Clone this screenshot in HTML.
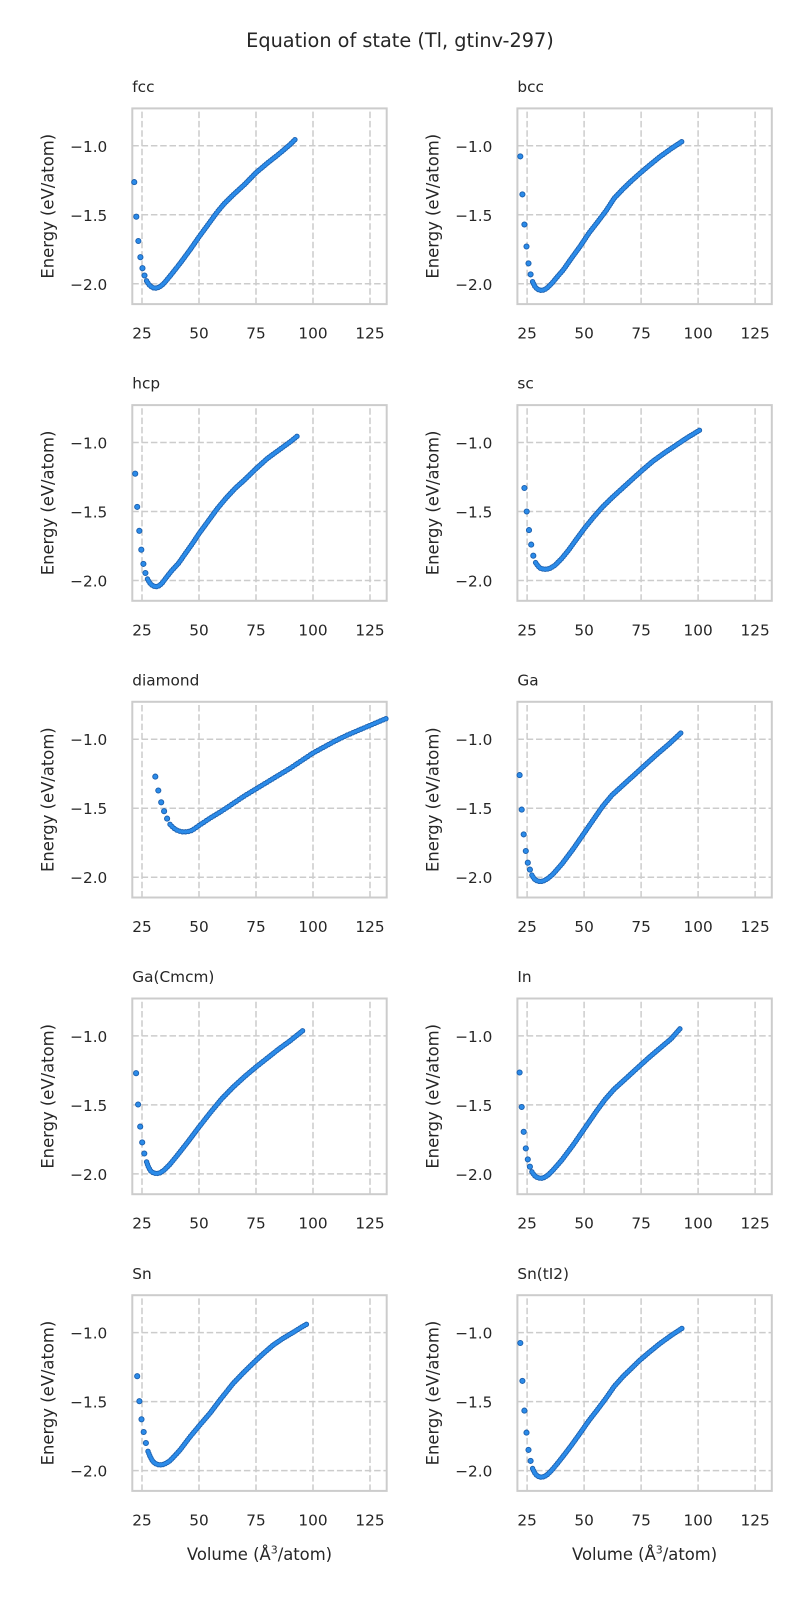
<!DOCTYPE html>
<html>
<head>
<meta charset="utf-8">
<style>
  html,body{margin:0;padding:0;background:#ffffff;}
  svg{display:block;}
  text{font-family:"DejaVu Sans","Liberation Sans",sans-serif;fill:#262626;}
  .d1{fill:none;stroke:#1b5fae;stroke-width:5.4;stroke-linecap:round;stroke-linejoin:round;stroke-dasharray:0 2.5;}
  .d2{fill:none;stroke:#2b8be9;stroke-width:3.6;stroke-linecap:round;stroke-linejoin:round;stroke-dasharray:0 2.5;}
  .e1{fill:none;stroke:#1b5fae;stroke-width:5.4;stroke-linecap:round;stroke-linejoin:round;stroke-dasharray:0 3;}
  .e2{fill:none;stroke:#2b8be9;stroke-width:3.6;stroke-linecap:round;stroke-linejoin:round;stroke-dasharray:0 3;}
  .pt circle{fill:#2b8be9;stroke:#1b5fae;stroke-width:0.9;}
</style>
</head>
<body>
<svg width="800" height="1600" viewBox="0 0 800 1600" xmlns="http://www.w3.org/2000/svg">
<rect x="0" y="0" width="800" height="1600" fill="#ffffff"/>
<defs>
  <g id="ax">
    <g stroke="#cccccc" stroke-width="1.5" stroke-dasharray="6.5 2.8" fill="none">
      <line x1="9.7" y1="195.7" x2="9.7" y2="0"/>
      <line x1="66.7" y1="195.7" x2="66.7" y2="0"/>
      <line x1="123.7" y1="195.7" x2="123.7" y2="0"/>
      <line x1="180.7" y1="195.7" x2="180.7" y2="0"/>
      <line x1="237.7" y1="195.7" x2="237.7" y2="0"/>
      <line x1="0" y1="37.4" x2="254.4" y2="37.4"/>
      <line x1="0" y1="106.4" x2="254.4" y2="106.4"/>
      <line x1="0" y1="175.4" x2="254.4" y2="175.4"/>
    </g>
    <rect x="0" y="0" width="254.4" height="195.7" fill="none" stroke="#cccccc" stroke-width="2"/>
    <g font-size="15.3" text-anchor="middle">
      <text x="9.7" y="230.2">25</text>
      <text x="66.7" y="230.2">50</text>
      <text x="123.7" y="230.2">75</text>
      <text x="180.7" y="230.2">100</text>
      <text x="237.7" y="230.2">125</text>
    </g>
    <g font-size="15.3" text-anchor="end">
      <text x="-25" y="43.4">−1.0</text>
      <text x="-25" y="112.4">−1.5</text>
      <text x="-25" y="181.4">−2.0</text>
    </g>
    <text transform="translate(-79,97.85) rotate(-90)" text-anchor="middle" font-size="16.4">Energy (eV/atom)</text>
  </g>

  <path id="p1" d="M146.56,280.8 L148.6,284.2 L150.66,286.3 L153.4,287.8 L156.1,288.1 L158.9,287.25 L161.6,285.5 L164.8,282.4 L171.6,274.1 L180.8,262.4 L189.9,250.0 L199,236.9 L208.1,224.5 L217.2,212.0 L224.1,203.8 L233.2,194.8 L244.6,184.4 L256,172.7 L267.4,163.05 L278.8,154.1 L290.2,144.4 L296.4,138.2"/>
  <path id="p2" d="M532.6,281.7 L534.7,286.1 L536.7,288.6 L539,290.0 L541.7,290.4 L544.5,289.7 L547.2,287.9 L551.8,283.4 L557.2,276.9 L563.2,270.0 L570.9,259.0 L580,246.5 L589.2,232.7 L596.7,223.1 L606.5,210.1 L614.2,198.2 L623.4,188.6 L631.3,181.0 L639.8,173.4 L649.6,165.1 L659.8,156.8 L671.2,148.6 L682.6,141.1"/>
  <path id="p3" d="M147.5,579.0 L149.5,582.6 L151.6,584.9 L154.5,586.4 L156.8,586.6 L159.6,585.5 L162.5,582.6 L166.6,577.1 L171.6,570.8 L178.6,563.2 L185.3,553.6 L192.2,543.9 L199,533.6 L208.1,521.2 L217.2,508.7 L226.4,497.7 L235.5,488.0 L244.6,479.8 L256,468.7 L267.4,458.4 L278.8,450.1 L290.2,441.8 L297,436.3"/>
  <path id="p4" d="M535.6,562.6 L537.9,566.0 L540.1,568.1 L543.6,569.2 L547,569.2 L550.4,568.1 L555,565.3 L561.8,558.4 L568.6,550.1 L575.5,540.5 L584.6,528.1 L593.7,517.0 L602.8,506.7 L612,497.7 L621.1,489.4 L630.2,481.1 L641.6,470.8 L653,461.1 L664.4,452.9 L675.8,445.3 L687.2,437.7 L700.9,429.4"/>
  <path id="p5" d="M170.0,824.3 L173.0,827.5 L175.7,829.6 L178.9,831.0 L183,831.9 L187.6,831.7 L192.2,830.3 L199,825.5 L210.4,817.9 L221.8,811.0 L233.2,803.4 L244.6,795.8 L256,788.9 L267.4,782.0 L278.8,775.1 L290.2,768.2 L301.6,760.6 L313,753.0 L324.4,746.8 L335.8,740.6 L347.2,735.1 L358.6,730.2 L370,725.4 L379.1,721.5 L386.4,718.5"/>
  <path id="p6" d="M531.9,875.1 L534.0,878.6 L536.0,880.4 L539.0,881.3 L541.7,881.3 L544.5,880.5 L548.1,878.3 L552.7,874.4 L561.8,864.1 L573.2,848.9 L584.6,832.4 L596,815.8 L602.8,806.1 L612,795.1 L623.4,784.7 L634.8,774.4 L646.2,764.0 L657.6,753.7 L669,744.0 L680.8,733.0"/>
  <path id="p7" d="M146.6,1161.9 L148.6,1167.4 L150.7,1170.9 L153.4,1172.9 L156.6,1173.6 L159.8,1172.9 L163.7,1170.5 L169.4,1164.9 L176.2,1156.7 L187.6,1142.2 L199,1127.0 L210.4,1112.5 L221.8,1098.7 L233.2,1087.0 L244.6,1076.6 L256,1067.0 L267.4,1058.0 L278.8,1049.0 L290.2,1040.7 L303.9,1029.7"/>
  <path id="p8" d="M531.9,1171.8 L534.0,1175.0 L536.0,1176.9 L539.0,1178.0 L541.7,1178.2 L544.5,1177.4 L548.1,1175.0 L552.7,1170.5 L561.8,1160.1 L573.2,1144.9 L584.6,1128.4 L596,1111.8 L605.1,1099.4 L614.3,1089.0 L625.7,1078.7 L637.0,1068.3 L648.4,1058.0 L659.8,1048.3 L671.2,1038.7 L681.0,1027.6"/>
  <path id="p9" d="M148.0,1451.3 L150.2,1456.8 L152.4,1460.7 L154.5,1463.0 L157.3,1464.5 L160.0,1464.9 L163.7,1464.4 L167.1,1462.6 L170.0,1460.7 L175.1,1455.4 L180.1,1449.9 L190.1,1436.7 L199,1426.0 L209.9,1413.3 L220,1399.9 L233.4,1383.1 L243.5,1372.6 L253.3,1363.0 L262.8,1354.0 L273.3,1344.9 L283.4,1338.1 L293.4,1332.2 L301.6,1327.1 L308.4,1323.1"/>
  <path id="p10" d="M532.6,1468.5 L534.7,1472.9 L536.7,1475.4 L539,1476.8 L541.7,1477.2 L544.5,1476.5 L547.2,1474.7 L551.8,1470.2 L557.2,1463.7 L563.2,1456.1 L570.9,1446.0 L580,1433.3 L589.2,1420.2 L596.7,1410.6 L606.5,1397.5 L614.2,1386.4 L623.4,1376.1 L631.3,1368.5 L639.8,1360.2 L649.6,1351.9 L659.8,1343.6 L671.2,1335.4 L682.6,1327.9"/>
</defs>

<!-- Suptitle -->
<text x="400" y="47" text-anchor="middle" font-size="19.3">Equation of state (Tl, gtinv-297)</text>

<!-- Axes frames / grids / ticks -->
<use href="#ax" x="132.3" y="108.4"/>
<use href="#ax" x="517.4" y="108.4"/>
<use href="#ax" x="132.3" y="405.1"/>
<use href="#ax" x="517.4" y="405.1"/>
<use href="#ax" x="132.3" y="701.8"/>
<use href="#ax" x="517.4" y="701.8"/>
<use href="#ax" x="132.3" y="998.5"/>
<use href="#ax" x="517.4" y="998.5"/>
<use href="#ax" x="132.3" y="1295.2"/>
<use href="#ax" x="517.4" y="1295.2"/>

<!-- Subplot titles -->
<g font-size="15.3">
  <text x="132.3" y="92">fcc</text>
  <text x="517.4" y="92">bcc</text>
  <text x="132.3" y="388.7">hcp</text>
  <text x="517.4" y="388.7">sc</text>
  <text x="132.3" y="685.4">diamond</text>
  <text x="517.4" y="685.4">Ga</text>
  <text x="132.3" y="982.1">Ga(Cmcm)</text>
  <text x="517.4" y="982.1">In</text>
  <text x="132.3" y="1278.8">Sn</text>
  <text x="517.4" y="1278.8">Sn(tI2)</text>
</g>

<!-- X labels -->
<g font-size="16.4" text-anchor="middle">
  <text x="259.5" y="1560">Volume (Å<tspan font-size="11" dy="-6.5">3</tspan><tspan dy="6.5">/atom)</tspan></text>
  <text x="644.6" y="1560">Volume (Å<tspan font-size="11" dy="-6.5">3</tspan><tspan dy="6.5">/atom)</tspan></text>
</g>

<!-- Data: dense parts -->
<use href="#p1" class="d1"/><use href="#p1" class="d2"/>
<use href="#p2" class="d1"/><use href="#p2" class="d2"/>
<use href="#p3" class="d1"/><use href="#p3" class="d2"/>
<use href="#p4" class="d1"/><use href="#p4" class="d2"/>
<use href="#p5" class="e1"/><use href="#p5" class="e2"/>
<use href="#p6" class="d1"/><use href="#p6" class="d2"/>
<use href="#p7" class="d1"/><use href="#p7" class="d2"/>
<use href="#p8" class="d1"/><use href="#p8" class="d2"/>
<use href="#p9" class="d1"/><use href="#p9" class="d2"/>
<use href="#p10" class="d1"/><use href="#p10" class="d2"/>

<!-- Data: sparse points -->
<g class="pt">
  <!-- fcc -->
  <circle cx="134.25" cy="182.1" r="2.6"/><circle cx="136.3" cy="216.7" r="2.6"/><circle cx="138.35" cy="241.0" r="2.6"/><circle cx="140.4" cy="257.2" r="2.6"/><circle cx="142.46" cy="268.2" r="2.6"/><circle cx="144.5" cy="275.5" r="2.6"/>
  <!-- bcc -->
  <circle cx="520.3" cy="156.4" r="2.6"/><circle cx="522.4" cy="194.4" r="2.6"/><circle cx="524.4" cy="224.5" r="2.6"/><circle cx="526.5" cy="246.5" r="2.6"/><circle cx="528.5" cy="263.4" r="2.6"/><circle cx="530.6" cy="274.4" r="2.6"/>
  <!-- hcp -->
  <circle cx="135.2" cy="473.7" r="2.6"/><circle cx="137.2" cy="506.9" r="2.6"/><circle cx="139.3" cy="530.8" r="2.6"/><circle cx="141.3" cy="549.7" r="2.6"/><circle cx="143.4" cy="563.9" r="2.6"/><circle cx="145.4" cy="573.0" r="2.6"/>
  <!-- sc -->
  <circle cx="524.4" cy="488.0" r="2.6"/><circle cx="526.7" cy="511.5" r="2.6"/><circle cx="529.0" cy="530.1" r="2.6"/><circle cx="531.2" cy="544.6" r="2.6"/><circle cx="533.3" cy="555.7" r="2.6"/>
  <!-- diamond -->
  <circle cx="155.3" cy="776.6" r="2.6"/><circle cx="158.3" cy="790.5" r="2.6"/><circle cx="161.2" cy="802.3" r="2.6"/><circle cx="164.1" cy="811.2" r="2.6"/><circle cx="167.1" cy="818.6" r="2.6"/>
  <!-- Ga -->
  <circle cx="519.6" cy="775.1" r="2.6"/><circle cx="521.7" cy="809.6" r="2.6"/><circle cx="523.7" cy="834.4" r="2.6"/><circle cx="525.8" cy="851.0" r="2.6"/><circle cx="527.8" cy="862.7" r="2.6"/><circle cx="529.9" cy="869.6" r="2.6"/>
  <!-- Ga(Cmcm) -->
  <circle cx="136.1" cy="1073.2" r="2.6"/><circle cx="138.1" cy="1104.5" r="2.6"/><circle cx="140.2" cy="1126.6" r="2.6"/><circle cx="142.2" cy="1142.4" r="2.6"/><circle cx="144.3" cy="1153.5" r="2.6"/>
  <!-- In -->
  <circle cx="519.6" cy="1072.5" r="2.6"/><circle cx="521.7" cy="1107.0" r="2.6"/><circle cx="523.7" cy="1131.8" r="2.6"/><circle cx="525.8" cy="1148.4" r="2.6"/><circle cx="527.8" cy="1159.4" r="2.6"/><circle cx="529.9" cy="1166.7" r="2.6"/>
  <!-- Sn -->
  <circle cx="137.2" cy="1376.2" r="2.6"/><circle cx="139.4" cy="1401.2" r="2.6"/><circle cx="141.5" cy="1419.3" r="2.6"/><circle cx="143.7" cy="1432.0" r="2.6"/><circle cx="145.9" cy="1443.0" r="2.6"/>
  <!-- Sn(tI2) -->
  <circle cx="520.3" cy="1343.0" r="2.6"/><circle cx="522.4" cy="1380.9" r="2.6"/><circle cx="524.4" cy="1410.6" r="2.6"/><circle cx="526.5" cy="1432.6" r="2.6"/><circle cx="528.5" cy="1449.9" r="2.6"/><circle cx="530.6" cy="1460.9" r="2.6"/>
</g>
</svg>
</body>
</html>
